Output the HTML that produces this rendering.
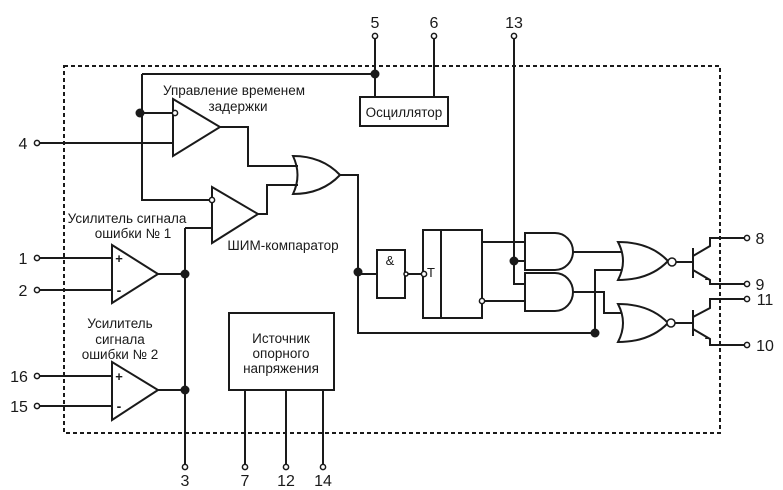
<!DOCTYPE html>
<html><head><style>body{margin:0;background:#fff}svg{display:block}text{font-family:"Liberation Sans",sans-serif;fill:#1a1a1a}</style></head><body>
<svg width="783" height="490" viewBox="0 0 783 490" xmlns="http://www.w3.org/2000/svg">
<g fill="none" stroke="#1a1a1a" stroke-width="2">
<rect x="64" y="66" width="656" height="367" stroke-dasharray="4,3"/>
<path d="M375 39V97M434 39V97M514 39V284H525M142 74H375M142 74V200H212M140 113H173M40 143H173"/>
<rect x="360" y="97" width="88" height="29"/>
<path d="M173 99L220 127L173 156Z"/>
<path d="M220 127H248V166H298"/>
<path d="M293 156Q322 156 340 175Q322 194 293 194Q302 175 293 156Z"/>
<path d="M340 175H358V333H595"/>
<path d="M212 187L258 214L212 243Z"/>
<path d="M258 214H267V185H298M185 228H212M185 228V464"/>
<path d="M112 245L158 274L112 303Z M112 362L158 390L112 420Z"/>
<path d="M40 258H112M40 290H112M40 376H112M40 406H112M158 274H185M158 390H185"/>
<rect x="229" y="313" width="105" height="77"/>
<path d="M245 390V464M286 390V464M323 390V464"/>
<rect x="377" y="250" width="28" height="48"/>
<path d="M358 274H377M408 274H421"/>
<rect x="423" y="230" width="59" height="88"/>
<path d="M441 230V318M482 242H525M485 301H525M514 261H525"/>
<path d="M525 233H555A18 18.5 0 0 1 555 270H525Z"/>
<path d="M525 273H555A18 19 0 0 1 555 311H525Z"/>
<path d="M618 242Q650 242 668 261Q650 280 618 280Q628 261 618 242Z"/>
<path d="M618 304Q650 304 668 323Q650 342 618 342Q628 323 618 304Z"/>
<path d="M573 252H622M595 333V270H622M573 292H604V313H622"/>
<path d="M676 262H693M693 248V278M693 256L710 246V238H744M693 270L710 280V284H744"/>
<path d="M675 323H693M693 310V336M693 317L710 308V299H744M693 329L710 339V345H744"/>
</g>
<g fill="#1a1a1a">
<circle cx="375" cy="74" r="4.5"/><circle cx="140" cy="113" r="4.5"/><circle cx="185" cy="274" r="4.5"/><circle cx="185" cy="390" r="4.5"/><circle cx="358" cy="272" r="4.5"/><circle cx="514" cy="261" r="4.5"/><circle cx="595" cy="333" r="4.5"/>
<path d="M706 277l4 3-5 0z M706 336l4 3-5 0z"/>
</g>
<g fill="#fff" stroke="#1a1a1a" stroke-width="1.5">
<circle cx="375" cy="36" r="2.6"/><circle cx="434" cy="36" r="2.6"/><circle cx="514" cy="36" r="2.6"/>
<circle cx="37" cy="143" r="2.6"/><circle cx="37" cy="258" r="2.6"/><circle cx="37" cy="290" r="2.6"/><circle cx="37" cy="376" r="2.6"/><circle cx="37" cy="406" r="2.6"/>
<circle cx="185" cy="467" r="2.6"/><circle cx="245" cy="467" r="2.6"/><circle cx="286" cy="467" r="2.6"/><circle cx="323" cy="467" r="2.6"/>
<circle cx="747" cy="238" r="2.6"/><circle cx="747" cy="284" r="2.6"/><circle cx="747" cy="299" r="2.6"/><circle cx="747" cy="345" r="2.6"/>
<circle cx="175" cy="113" r="2.6"/><circle cx="212" cy="200" r="2.6"/><circle cx="406" cy="274" r="2"/><circle cx="424" cy="274" r="2.6"/><circle cx="482" cy="301" r="2.6"/>
<circle cx="672" cy="262" r="4"/><circle cx="671" cy="323" r="4"/>
</g>
<g font-size="16" text-anchor="middle">
<text x="375" y="28">5</text><text x="434" y="28">6</text><text x="514" y="28">13</text>
<text x="23" y="149">4</text><text x="23" y="264">1</text><text x="23" y="296">2</text><text x="19" y="382">16</text><text x="19" y="412">15</text>
<text x="185" y="486">3</text><text x="245" y="486">7</text><text x="286" y="486">12</text><text x="323" y="486">14</text>
<text x="760" y="244">8</text><text x="760" y="290">9</text><text x="765" y="305">11</text><text x="765" y="351">10</text>
</g>
<g font-size="13.5" text-anchor="middle">
<text x="234" y="95">Управление временем</text><text x="238" y="111">задержки</text>
<text x="404" y="117">Осциллятор</text>
<text x="127" y="223">Усилитель сигнала</text><text x="133" y="238">ошибки № 1</text>
<text x="283" y="250">ШИМ-компаратор</text>
<text x="120" y="328">Усилитель</text><text x="120" y="344">сигнала</text><text x="120" y="359">ошибки № 2</text>
<text x="281" y="343">Источник</text><text x="281" y="358">опорного</text><text x="281" y="373">напряжения</text>
<text x="390" y="265" font-size="13">&amp;</text>
<text x="431" y="277" font-size="13">T</text>
<text x="119" y="263" font-size="13" font-weight="bold">+</text><text x="119" y="295" font-size="14" font-weight="bold">-</text>
<text x="119" y="381" font-size="13" font-weight="bold">+</text><text x="119" y="411" font-size="14" font-weight="bold">-</text>
</g>
</svg>
</body></html>
